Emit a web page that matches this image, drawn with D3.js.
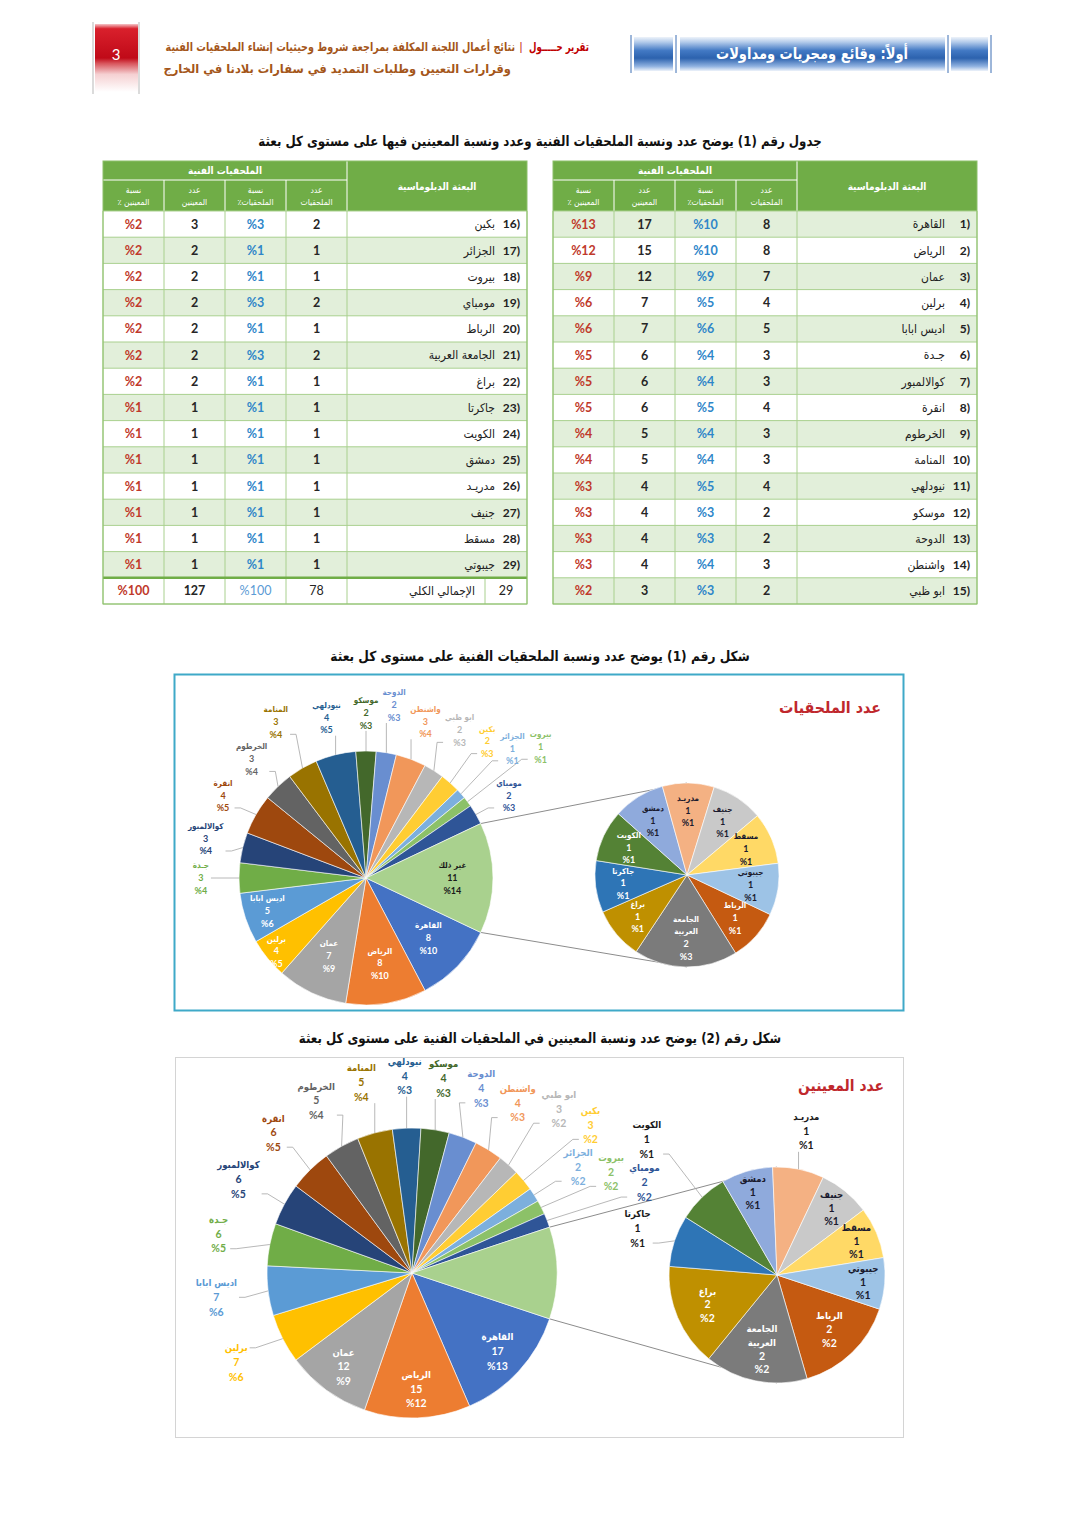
<!DOCTYPE html>
<html lang="ar"><head><meta charset="utf-8">
<script src="https://cdn.jsdelivr.net/npm/d3@7/dist/d3.min.js"></script>
<style>html,body{margin:0;padding:0;background:#fff}svg{display:block}</style>
</head><body>
<svg id="page" width="1080" height="1527" xmlns="http://www.w3.org/2000/svg"></svg>
<script>
// ================= DATA =================
const missions = ["القاهرة","الرياض","عمان","برلين","اديس ابابا","جـدة","كوالالمبور","انقرة","الخرطوم","المنامة","نيودلهي","موسكو","الدوحة","واشنطن","ابو ظبي","بكين","الجزائر","بيروت","مومباي","الرباط","الجامعة العربية","براغ","جاكرتا","الكويت","دمشق","مدريـد","جنيف","مسقط","جيبوتي"];
const attacheCounts   = [8,8,7,4,5,3,3,4,3,3,4,2,2,3,2,2,1,1,2,1,2,1,1,1,1,1,1,1,1];
const attachePcts     = [10,10,9,5,6,4,4,5,4,4,5,3,3,4,3,3,1,1,3,1,3,1,1,1,1,1,1,1,1];
const appointeeCounts = [17,15,12,7,7,6,6,6,5,5,4,4,4,4,3,3,2,2,2,2,2,2,1,1,1,1,1,1,1];
const appointeePcts   = [13,12,9,6,6,5,5,5,4,4,3,3,3,3,2,2,2,2,2,2,2,2,1,1,1,1,1,1,1];
const otherLabel = "غير ذلك";
const totalLabel = "الإجمالي الكلي";
const headGroup = "الملحقيات الفنية";
const headMission = "البعثة الدبلوماسية";
const subHeads = [["نسبة","المعينين ٪"],["عدد","المعينين"],["نسبة","الملحقيات٪"],["عدد","الملحقيات"]];
const tableTitle = "جدول رقم (1) يوضح عدد ونسبة الملحقيات الفنية وعدد ونسبة المعينين فيها على مستوى كل بعثة";
const fig1Title = "شكل رقم (1) يوضح عدد ونسبة الملحقيات الفنية على مستوى كل بعثة";
const fig2Title = "شكل رقم (2) يوضح عدد ونسبة المعينين في الملحقيات الفنية على مستوى كل بعثة";
const chart1Name = "عدد الملحقيات";
const chart2Name = "عدد المعينين";
const pageNo = "3";
const hdrRed = "تقرير حـــــول";
const hdrLine1 = "نتائج أعمال اللجنة المكلفة بمراجعة شروط وحيثيات إنشاء الملحقيات الفنية";
const hdrLine2 = "وقرارات التعيين وطلبات التمديد في سفارات بلادنا في الخارج";
const bannerText = "أولاً: وقائع ومجريات ومداولات";
const insideMain1 = ["القاهرة","الرياض","عمان","برلين","اديس ابابا"];
const insideMain2 = ["القاهرة","الرياض","عمان"];
const outsideSec2 = ["مدريـد","الكويت","جاكرتا"];

// palette (Excel office order)
const palette = ["#4472C4","#ED7D31","#A5A5A5","#FFC000","#5B9BD5","#70AD47","#264478","#9E480E","#636363","#997300","#255E91","#43682B","#698ED0","#F1975A","#B7B7B7","#FFCD33","#7CAFDD","#8CC168","#2F5597","#C55A11","#7B7B7B","#BF9000","#2E75B6","#548235","#8FAADC","#F4B183","#C9C9C9","#FFD966","#9DC3E6"];
const otherColor = "#A9D18E";

// ================= DRAW =================
const svg = d3.select("#page");
const AR = "'DejaVu Sans Condensed','DejaVu Sans',sans-serif";
const NUM = "Lato,'Open Sans',sans-serif";
const defs = svg.append("defs");
function grad(id, stops){
  const lg = defs.append("linearGradient").attr("id",id).attr("x1",0).attr("y1",0).attr("x2",0).attr("y2",1);
  stops.forEach(([o,c])=>lg.append("stop").attr("offset",o).attr("stop-color",c));
}
grad("gBlue",[[0,"#EEF3FA"],[0.15,"#B3CBEA"],[0.4,"#4279C4"],[0.62,"#2C62AE"],[0.86,"#8FB1E0"],[1,"#EEF3FA"]]);
grad("gRed",[[0,"#F5C5C8"],[0.07,"#D9202C"],[0.5,"#C00A18"],[0.58,"#D8555C"],[0.74,"#F5D0D2"],[1,"#FFFFFF"]]);

// text fitted horizontally to a target width by scaling
function fitText(parent, t, x, y, target, anchor, fs, fill, rtl){
  const el = parent.append("text").attr("x",0).attr("y",0).attr("text-anchor",anchor)
    .attr("font-family",AR).attr("font-weight","bold").attr("font-size",fs).attr("fill",fill).text(t);
  if(rtl) el.attr("direction","rtl");
  const w = el.node().getComputedTextLength();
  el.attr("transform",`translate(${x},${y}) scale(${target/w},1)`);
  return el;
}

// ---- page header ----
const hdr = svg.append("g");
hdr.append("rect").attr("x",95).attr("y",24).attr("width",43).attr("height",68).attr("fill","url(#gRed)");
[93,139].forEach(x=>hdr.append("line").attr("x1",x).attr("x2",x).attr("y1",22).attr("y2",94).attr("stroke","#CFCFCF").attr("stroke-width",1.5));
hdr.append("text").attr("x",116).attr("y",60).attr("text-anchor","middle").attr("font-family",NUM).attr("font-size",15).attr("fill","#fff").text(pageNo);
fitText(hdr,hdrRed,589,51,60,"end",12,"#C00000",false);
hdr.append("text").attr("x",521).attr("y",51).attr("text-anchor","middle").attr("font-family",NUM).attr("font-size",12).attr("fill","#C00000").text("|");
fitText(hdr,hdrLine1,515,51,350,"end",12,"#A4561A",false);
fitText(hdr,hdrLine2,511,73,348,"end",12,"#A4561A",false);
[[634,673],[680,945],[951,988]].forEach(([a,b])=>hdr.append("rect").attr("x",a).attr("y",37).attr("width",b-a).attr("height",34).attr("fill","url(#gBlue)"));
[631,676,948,991].forEach(x=>hdr.append("line").attr("x1",x).attr("x2",x).attr("y1",35).attr("y2",73).attr("stroke","#3C6EB4").attr("stroke-width",1));
fitText(hdr,bannerText,812,59,192,"middle",16,"#fff",true);

// ---- titles ----
fitText(svg,tableTitle,540,146,564,"middle",14,"#111",true);
fitText(svg,fig1Title,540,661,420,"middle",14,"#111",true);
fitText(svg,fig2Title,540,1043,483,"middle",14,"#111",true);

// ---- tables ----
function drawTable(x0, start, count, withTotal){
  const g = svg.append("g");
  const widths=[61,61,61,61,180];
  const xs=[x0]; widths.forEach(w=>xs.push(xs[xs.length-1]+w));
  const x1=xs[5];
  const yT=161,yM=180,yH=211,rh=26.2;
  const green="#70AD47", grid="#A9D08E";
  g.append("rect").attr("x",x0).attr("y",yT).attr("width",x1-x0).attr("height",yH-yT).attr("fill",green);
  g.append("line").attr("x1",x0).attr("x2",xs[4]).attr("y1",yM).attr("y2",yM).attr("stroke","#fff");
  xs.slice(1,4).forEach(x=>g.append("line").attr("x1",x).attr("x2",x).attr("y1",yM).attr("y2",yH).attr("stroke","#fff"));
  g.append("line").attr("x1",xs[4]).attr("x2",xs[4]).attr("y1",yT).attr("y2",yH).attr("stroke","#fff");
  g.append("text").attr("x",(x0+xs[4])/2).attr("y",174).attr("text-anchor","middle").attr("font-family",AR)
    .attr("font-weight","bold").attr("font-size",10).attr("fill","#fff").text(headGroup);
  g.append("text").attr("x",(xs[4]+x1)/2).attr("y",190).attr("text-anchor","middle").attr("font-family",AR)
    .attr("font-weight","bold").attr("font-size",10).attr("fill","#fff").text(headMission);
  subHeads.forEach((sh,i)=>{
    const cx=(xs[i]+xs[i+1])/2;
    g.append("text").attr("x",cx).attr("y",193).attr("text-anchor","middle").attr("font-family",AR).attr("font-size",8.5).attr("fill","#fff").text(sh[0]);
    g.append("text").attr("x",cx).attr("y",205).attr("text-anchor","middle").attr("direction","rtl").attr("font-family",AR).attr("font-size",8.5).attr("fill","#fff").text(sh[1]);
  });
  const rows=d3.range(start,start+count);
  rows.forEach((idx,i)=>{
    const y=yH+i*rh, cy=y+rh/2;
    g.append("rect").attr("x",x0).attr("y",y).attr("width",x1-x0).attr("height",rh).attr("fill",idx%2===0?"#E2EFDA":"#FFFFFF");
    const vals=[{t:"%"+appointeePcts[idx],c:"#C0392B"},{t:appointeeCounts[idx],c:"#262626"},{t:"%"+attachePcts[idx],c:"#2E86C9"},{t:attacheCounts[idx],c:"#262626"}];
    vals.forEach((v,j)=>g.append("text").attr("x",(xs[j]+xs[j+1])/2).attr("y",cy).attr("dy","0.36em").attr("text-anchor","middle")
      .attr("font-family",NUM).attr("font-weight","bold").attr("font-size",12.5).attr("fill",v.c).text(v.t));
    g.append("text").attr("x",x1-7).attr("y",cy).attr("dy","0.36em").attr("text-anchor","end").attr("font-family",NUM)
      .attr("font-weight","bold").attr("font-size",12).attr("fill","#222").text((idx+1)+")");
    g.append("text").attr("x",x1-32).attr("y",cy).attr("dy","0.36em").attr("text-anchor","end").attr("font-family",AR)
      .attr("font-size",12).attr("fill","#222").text(missions[idx]);
  });
  let yEnd=yH+count*rh;
  if(withTotal){
    const y=yEnd, cy=y+rh/2;
    g.append("rect").attr("x",x0).attr("y",y).attr("width",x1-x0).attr("height",rh).attr("fill","#fff");
    const tv=[{t:"%100",c:"#C0392B",w:"bold"},{t:d3.sum(appointeeCounts),c:"#262626",w:"bold"},{t:"%100",c:"#5B9BD5",w:"normal"},{t:d3.sum(attacheCounts),c:"#262626",w:"normal"}];
    tv.forEach((v,j)=>g.append("text").attr("x",(xs[j]+xs[j+1])/2).attr("y",cy).attr("dy","0.36em").attr("text-anchor","middle")
      .attr("font-family",NUM).attr("font-weight",v.w).attr("font-size",12.5).attr("fill",v.c).text(v.t));
    g.append("text").attr("x",x1-21).attr("y",cy).attr("dy","0.36em").attr("text-anchor","middle").attr("font-family",NUM)
      .attr("font-size",12.5).attr("fill","#222").text(missions.length);
    g.append("text").attr("x",x1-52).attr("y",cy).attr("dy","0.36em").attr("text-anchor","end").attr("font-family",AR)
      .attr("font-size",12).attr("fill","#222").text(totalLabel);
    g.append("line").attr("x1",x1-42).attr("x2",x1-42).attr("y1",y).attr("y2",y+rh).attr("stroke",grid);
    yEnd=y+rh;
  }
  for(let i=0;i<=count+(withTotal?1:0);i++){
    const y=yH+i*rh;
    g.append("line").attr("x1",x0).attr("x2",x1).attr("y1",y).attr("y2",y).attr("stroke",grid).attr("stroke-width",1);
  }
  xs.forEach(x=>g.append("line").attr("x1",x).attr("x2",x).attr("y1",yH).attr("y2",yEnd).attr("stroke",grid));
  if(withTotal){
    const y=yH+count*rh;
    g.append("line").attr("x1",x0).attr("x2",x1).attr("y1",y).attr("y2",y).attr("stroke",green).attr("stroke-width",2.5);
  }
  g.append("rect").attr("x",x0).attr("y",yT).attr("width",x1-x0).attr("height",yEnd-yT).attr("fill","none").attr("stroke","#8CC06A").attr("stroke-width",1);
}
drawTable(553,0,15,false);
drawTable(103,15,14,true);

// ---- frames ----
svg.append("rect").attr("x",174.5).attr("y",674.5).attr("width",729).attr("height",336).attr("fill","none").attr("stroke","#3FA9C8").attr("stroke-width",2);
svg.append("rect").attr("x",175.5).attr("y",1057.5).attr("width",728).attr("height",380).attr("fill","none").attr("stroke","#D4D4D4").attr("stroke-width",1);
fitText(svg,chart1Name,881,713,102,"end",16,"#C0282D",false);
fitText(svg,chart2Name,884,1091,86,"end",16,"#C0282D",false);

// ---- pie of pie ----
const overlap=(a,b)=>a.x0<b.x1&&b.x0<a.x1&&a.y0<b.y1&&b.y0<a.y1;
const clamp=(v,a,b)=>Math.max(a,Math.min(b,v));
function drawPieOfPie(o){
  const g=svg.append("g");
  const total=d3.sum(o.values);
  const secSum=d3.sum(o.values.slice(o.split));
  const half=Math.PI*secSum/total;
  const start=Math.PI/2+half;
  const items=o.values.map((v,i)=>({name:missions[i],v,pct:o.pcts[i],color:palette[i]}));
  const mainItems=items.slice(0,o.split).concat([{name:otherLabel,v:secSum,pct:Math.round(secSum/total*100),color:otherColor,other:true}]);
  const secItems=items.slice(o.split);
  const pie=d3.pie().sort(null).value(d=>d.v).startAngle(start).endAngle(start+2*Math.PI);
  const mA=pie(mainItems), sA=pie(secItems);
  const pt=(cx,cy,r,a)=>[cx+r*Math.sin(a),cy-r*Math.cos(a)];
  const oth=mA[mA.length-1];
  const p1=pt(o.cx,o.cy,o.r,oth.startAngle), p2=pt(o.cx,o.cy,o.r,oth.endAngle);
  g.append("line").attr("x1",p1[0]).attr("y1",p1[1]).attr("x2",o.cx2).attr("y2",o.cy2-o.r2).attr("stroke","#8C8C8C").attr("stroke-width",1);
  g.append("line").attr("x1",p2[0]).attr("y1",p2[1]).attr("x2",o.cx2).attr("y2",o.cy2+o.r2).attr("stroke","#8C8C8C").attr("stroke-width",1);
  const arc1=d3.arc().innerRadius(0).outerRadius(o.r), arc2=d3.arc().innerRadius(0).outerRadius(o.r2);
  g.append("g").attr("transform",`translate(${o.cx},${o.cy})`).selectAll("path").data(mA).join("path")
    .attr("d",arc1).attr("fill",d=>d.data.color).attr("stroke","#fff").attr("stroke-width",0.6);
  g.append("g").attr("transform",`translate(${o.cx2},${o.cy2})`).selectAll("path").data(sA).join("path")
    .attr("d",arc2).attr("fill",d=>d.data.color).attr("stroke","#fff").attr("stroke-width",0.6);
  const leaders=g.append("g"), labels=g.append("g");
  const placed=[];
  function build(d,fill,lh){
    const nm=d.data.name;
    const nameLines=nm.length>12?nm.split(" "):[nm];
    const lines=nameLines.map(t=>({t,ar:true})).concat([{t:String(d.data.v)},{t:"%"+d.data.pct}]);
    const lg=labels.append("g");
    const n=lines.length;
    lines.forEach((L,i)=>lg.append("text").attr("x",0).attr("y",(i-(n-1)/2)*lh).attr("dy","0.36em").attr("text-anchor","middle")
      .attr("font-family",L.ar?AR:NUM).attr("font-size",L.ar?o.fsAr:o.fs).attr("font-weight","bold").attr("fill",fill).text(L.t));
    const w=d3.max(lg.selectAll("text").nodes(),nd=>nd.getComputedTextLength());
    return {lg,w,h:(n-1)*lh+o.fs,n};
  }
  const lum=c=>d3.hsl(c).l;
  function inside(d,cx,cy,r,k,fill,lh){
    const L=build(d,fill,lh);
    const mid=(d.startAngle+d.endAngle)/2;
    const [x,y]=pt(cx,cy,r*k,mid);
    L.lg.attr("transform",`translate(${x},${y})`);
  }
  function outside(d,cx,cy,r,fill){
    const L=build(d,fill,o.lh);
    const mid=(d.startAngle+d.endAngle)/2;
    let k=o.k0, box, x, y;
    for(let it=0;it<120;it++){
      [x,y]=pt(cx,cy,r*k,mid);
      box={x0:x-L.w/2-2,x1:x+L.w/2+2,y0:y-L.h/2-1,y1:y+L.h/2+1};
      const nx=clamp(cx,box.x0,box.x1), ny=clamp(cy,box.y0,box.y1);
      const clear=Math.hypot(nx-cx,ny-cy)>r+o.gap;
      if(clear && !placed.some(b=>overlap(b,box))) break;
      k+=0.02;
    }
    placed.push(box);
    L.lg.attr("transform",`translate(${x},${y})`);
    const P=pt(cx,cy,r,mid);
    const lineYs=d3.range(L.n).map(i=>y+(i-(L.n-1)/2)*o.lh);
    let pts;
    if(P[0]>=box.x0&&P[0]<=box.x1){
      pts=[[P[0],P[1]>box.y1?box.y1:box.y0],P];
    } else {
      const right=box.x0>P[0];
      const ax=right?box.x0:box.x1;
      const ay=lineYs.reduce((b,v)=>Math.abs(v-P[1])<Math.abs(b-P[1])?v:b,lineYs[0]);
      pts=[[ax,ay],[ax+(right?-6:6),ay],P];
    }
    leaders.append("path").attr("d",d3.line()(pts)).attr("fill","none").attr("stroke","#A6A6A6").attr("stroke-width",0.8);
  }
  mA.forEach(d=>{
    if(d.data.other){
      if(o.showOther) inside(d,o.cx,o.cy,o.r,o.kIn,"#1A1A1A",o.lh);
      return;
    }
    if(o.insideMain.includes(d.data.name)){
      const ang=(d.endAngle-d.startAngle)*180/Math.PI;
      const k=ang>=30?o.kIn:Math.min(0.92,o.kIn+(30-ang)/12*0.24);
      inside(d,o.cx,o.cy,o.r,k,lum(d.data.color)>0.68?"#1A1A2E":"#FFFFFF",o.lh);
    }
    else outside(d,o.cx,o.cy,o.r,d.data.color);
  });
  sA.forEach(d=>{
    if(o.outsideSec.includes(d.data.name)) outside(d,o.cx2,o.cy2,o.r2,"#1A1A1A");
    else {
      const ang=(d.endAngle-d.startAngle)*180/Math.PI;
      inside(d,o.cx2,o.cy2,o.r2,ang>45?o.kIn2Big:o.kIn2,lum(d.data.color)>0.68?"#1A1A2E":"#FFFFFF",o.lh2);
    }
  });
}
drawPieOfPie({values:attacheCounts,pcts:attachePcts,split:19,cx:366,cy:878,r:127,cx2:687,cy2:875,r2:92,
  fs:9,fsAr:8,lh:12.5,lh2:12.5,kIn:0.68,kIn2:0.7,kIn2Big:0.68,k0:1.3,gap:8,insideMain:insideMain1,outsideSec:[],showOther:true});
drawPieOfPie({values:appointeeCounts,pcts:appointeePcts,split:19,cx:412,cy:1273,r:145,cx2:777,cy2:1275,r2:108,
  fs:10.5,fsAr:9.5,lh:14.5,lh2:13.5,kIn:0.8,kIn2:0.8,kIn2Big:0.7,k0:1.36,gap:8,insideMain:insideMain2,outsideSec:outsideSec2,showOther:false});
</script>
</body></html>
